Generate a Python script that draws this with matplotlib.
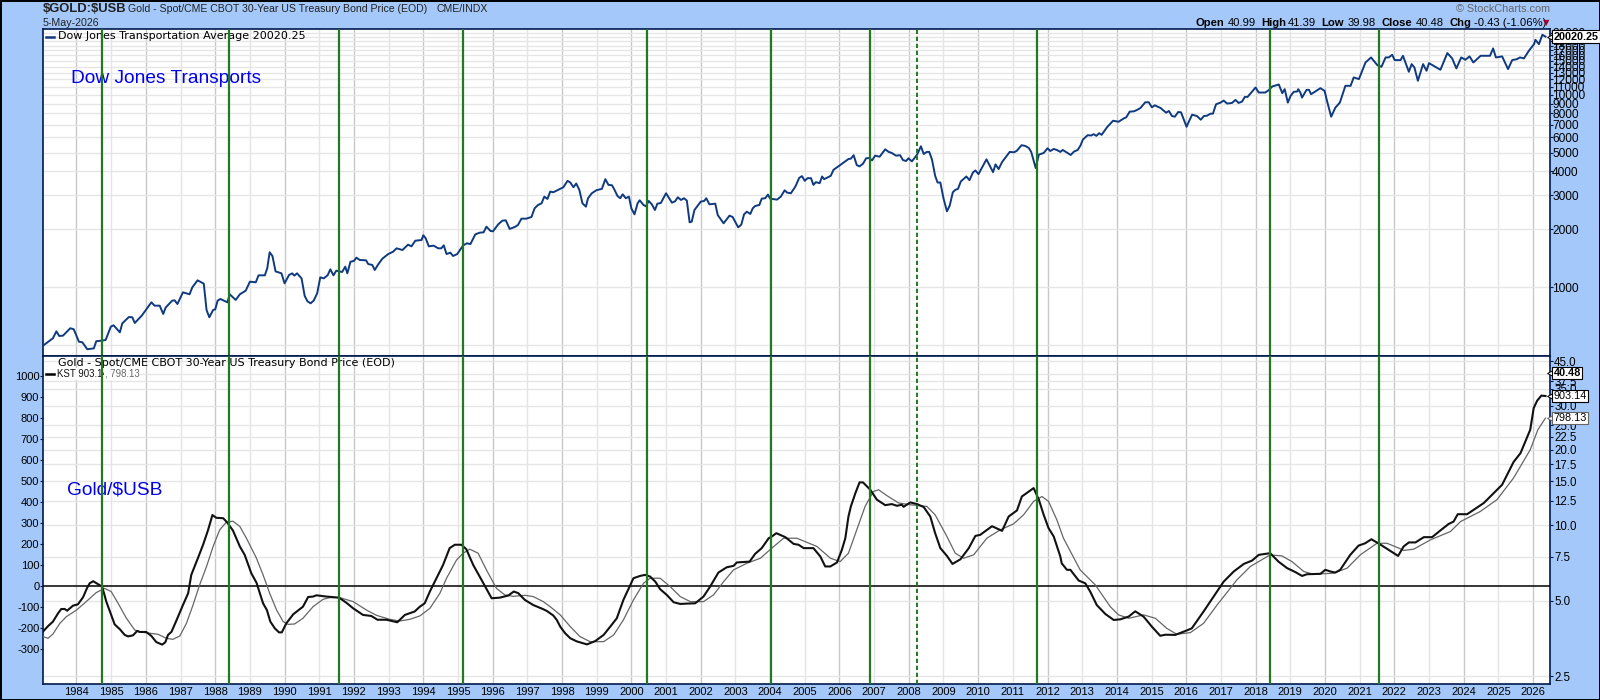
# -*- coding: utf-8 -*-
import matplotlib
matplotlib.use('Agg')
import matplotlib.pyplot as plt

plt.rcParams['font.family'] = ['Liberation Sans', 'DejaVu Sans']

# Dow Jones Transportation Average
dj_years = [
    1983.03, 1983.32, 1983.42, 1983.50, 1983.61, 1983.82, 1983.92, 1984.07, 1984.17, 1984.31,
    1984.50, 1984.57, 1984.74, 1984.84, 1984.99, 1985.07, 1985.25, 1985.32, 1985.51, 1985.61,
    1985.68, 1985.88, 1986.16, 1986.25, 1986.40, 1986.50, 1986.57, 1986.76, 1986.83, 1986.91,
    1987.07, 1987.26, 1987.34, 1987.49, 1987.67, 1987.75, 1987.83, 1987.94, 1988.00, 1988.07,
    1988.15, 1988.35, 1988.42, 1988.59, 1988.71, 1988.88, 1989.00, 1989.17, 1989.25, 1989.43,
    1989.50, 1989.57, 1989.65, 1989.74, 1989.91, 1990.00, 1990.13, 1990.22, 1990.28, 1990.36,
    1990.49, 1990.58, 1990.66, 1990.75, 1990.84, 1990.94, 1991.03, 1991.13, 1991.24, 1991.32,
    1991.41, 1991.49, 1991.66, 1991.75, 1991.81, 1991.90, 1992.00, 1992.07, 1992.17, 1992.35,
    1992.41, 1992.53, 1992.60, 1992.70, 1992.82, 1992.99, 1993.13, 1993.23, 1993.40, 1993.56,
    1993.66, 1993.77, 1993.95, 1994.00, 1994.07, 1994.16, 1994.30, 1994.43, 1994.52, 1994.59,
    1994.67, 1994.78, 1994.86, 1994.98, 1995.15, 1995.26, 1995.36, 1995.50, 1995.63, 1995.74,
    1995.82, 1995.94, 1996.01, 1996.16, 1996.28, 1996.38, 1996.49, 1996.64, 1996.73, 1996.83,
    1996.97, 1997.12, 1997.21, 1997.31, 1997.41,
    1997.49, 1997.58, 1997.66, 1997.75, 1998.04, 1998.16, 1998.24, 1998.33, 1998.41, 1998.50,
    1998.59, 1998.69, 1998.75, 1998.86, 1998.99, 1999.15, 1999.25, 1999.34, 1999.44, 1999.50,
    1999.60, 1999.68, 1999.75, 1999.84, 1999.93, 2000.00, 2000.09, 2000.18, 2000.24, 2000.35,
    2000.42, 2000.50, 2000.59, 2000.68, 2000.75, 2000.85, 2001.00, 2001.17, 2001.26, 2001.34,
    2001.43, 2001.52, 2001.60, 2001.68, 2001.74, 2001.82, 2002.00, 2002.10, 2002.16, 2002.25,
    2002.42, 2002.49, 2002.66, 2002.83, 2002.92, 2003.08, 2003.17, 2003.25, 2003.33, 2003.43,
    2003.50, 2003.57, 2003.69, 2003.76, 2003.86, 2003.94, 2004.00, 2004.20, 2004.31, 2004.42,
    2004.49, 2004.60, 2004.73, 2004.84, 2004.92, 2005.00, 2005.08, 2005.18, 2005.25, 2005.32,
    2005.43, 2005.50, 2005.56, 2005.75, 2005.83, 2006.02, 2006.26, 2006.33, 2006.41, 2006.50,
    2006.58, 2006.68, 2006.77, 2006.86, 2006.94, 2007.03, 2007.16, 2007.32, 2007.42, 2007.51,
    2007.63, 2007.75, 2007.83, 2007.92, 2007.99, 2008.09, 2008.24, 2008.35, 2008.43, 2008.52,
    2008.59, 2008.67, 2008.76, 2008.83, 2008.91, 2009.00, 2009.10, 2009.18, 2009.27, 2009.34,
    2009.42, 2009.50, 2009.66, 2009.75, 2009.85, 2009.92, 2010.01, 2010.24, 2010.43, 2010.50,
    2010.59, 2010.69, 2010.91, 2011.04, 2011.12, 2011.25, 2011.36, 2011.46, 2011.53, 2011.60,
    2011.66, 2011.75, 2011.89, 2012.00, 2012.08, 2012.18, 2012.27, 2012.37,
    2012.44, 2012.67, 2012.76, 2012.87, 2012.95, 2013.02, 2013.16, 2013.26, 2013.33, 2013.41,
    2013.49, 2013.56, 2013.72, 2013.89, 2014.05, 2014.20, 2014.27, 2014.37, 2014.49, 2014.58,
    2014.68, 2014.82, 2014.92, 2015.01, 2015.09, 2015.26, 2015.42, 2015.50, 2015.59, 2015.67,
    2015.77, 2015.85, 2016.01, 2016.07, 2016.17, 2016.31, 2016.42, 2016.51, 2016.60, 2016.70,
    2016.77, 2016.86, 2016.99, 2017.08, 2017.18, 2017.32, 2017.42, 2017.51, 2017.61, 2017.69,
    2017.77, 2018.00, 2018.09, 2018.28, 2018.38, 2018.48, 2018.67, 2018.77, 2018.84, 2018.93,
    2019.01, 2019.10, 2019.20, 2019.23, 2019.29,
    2019.34, 2019.47, 2019.54, 2019.60, 2019.87, 2019.99, 2020.06, 2020.18, 2020.30, 2020.43,
    2020.59, 2020.74, 2020.83, 2020.98, 2021.17, 2021.33, 2021.51, 2021.63, 2021.75, 2021.84,
    2021.94, 2022.01, 2022.18, 2022.25, 2022.42, 2022.50, 2022.58, 2022.68, 2022.83, 2022.93,
    2023.00, 2023.33, 2023.53, 2023.67, 2023.79, 2023.93, 2024.05, 2024.17, 2024.28, 2024.49,
    2024.76, 2024.85, 2024.93, 2025.11, 2025.28, 2025.40, 2025.54, 2025.62, 2025.74, 2025.88,
    2026.03, 2026.07, 2026.17, 2026.27, 2026.36,
]
dj_values = [
    497, 544, 591, 559, 561, 613, 606, 522, 518, 477,
    482, 525, 529, 533, 625, 635, 584, 650, 701, 699,
    653, 712, 836, 803, 803, 727, 785, 853, 856, 819,
    942, 920, 1000, 1087, 1045, 763, 699, 763, 768, 853,
    870, 836, 920, 860, 920, 961, 1070, 1062, 1154, 1154,
    1255, 1520, 1454, 1210, 1182, 1049, 1159, 1182, 1150, 1182,
    1113, 902, 846, 826, 853, 931, 1127, 1113, 1154, 1240,
    1154, 1220, 1201, 1280, 1182, 1358, 1370, 1425, 1386, 1381,
    1321, 1306, 1230, 1316, 1408, 1489, 1531, 1594, 1562, 1665,
    1632, 1746, 1760, 1863, 1796, 1632, 1645, 1594, 1594, 1652,
    1489, 1513, 1454, 1489, 1652, 1692, 1678, 1884, 1922, 1930,
    2065, 1960, 1953, 2123, 2218, 2227, 2010, 2057, 2106, 2272,
    2272, 2318, 2571, 2677, 2729,
    2957, 2875, 3140, 3115, 3308, 3570, 3500, 3308, 3458, 3204,
    2729, 2623, 2900, 3078, 3190, 3245, 3643, 3402, 3388, 3245,
    2980, 2900, 3040, 2900, 2957, 2570, 2393, 2729, 2830, 2676,
    2633, 2808, 2697, 2520, 2718, 2740, 3078, 2751, 2796, 2933,
    2841, 2900, 2819, 2175, 2192, 2520, 2785, 2808, 2900, 2697,
    2718, 2374, 2149, 2355, 2318, 2049, 2115, 2393, 2470, 2403,
    2570, 2644, 2676, 2887, 2900, 3030, 2887, 2853, 2957, 3190,
    3103, 3078, 3335, 3700, 3777, 3570, 3686, 3686, 3402, 3515,
    3472, 3762, 3643, 3792, 4076, 4310, 4635, 4655, 4850, 4310,
    4243, 4382, 4675, 4690, 4560, 4825, 4765, 5205, 5045, 4982,
    4825, 4850, 4580, 4525, 4675, 4507, 4885, 5398, 4920, 5045,
    5045, 4598, 3792, 3500, 3500, 2900, 2480, 2655, 3115, 3204,
    3245, 3545, 3762, 3600, 3946, 4043, 3870, 4617, 3962, 4347,
    4110, 4470, 5045, 5025, 5125, 5465, 5420, 5290, 5045, 4540,
    4160, 4885, 4982, 5270, 5100, 5228, 5165, 5045,
    5165, 4864, 5060, 5165, 5442, 5849, 6163, 6139, 6238, 6114,
    6313, 6188, 6788, 7325, 7237, 7533, 7625, 8165, 8197, 8328,
    8530, 9134, 9134, 8600, 8810, 8530, 8065, 8230, 7747, 7685,
    8130, 8098, 6813, 7208, 7873, 7747, 7413, 7747, 7780, 7968,
    7968, 8917, 9097, 9320, 8990, 9060, 9395, 9060, 9208, 9740,
    9740, 10900, 10262, 10262, 10555, 11030, 11300, 10180, 10683, 9097,
    9858, 10345, 10390, 10683, 10262,
    9660, 10597, 10597, 10060, 10810, 10470, 9280, 7685, 8565, 9097,
    11120, 11120, 12290, 12050, 14700, 15610, 14240, 13960, 15610, 15610,
    16110, 15120, 15120, 15920, 13150, 14410, 13850, 11810, 14410, 13310,
    14580, 13470, 16440, 15420, 13690, 15610, 15180, 15800, 14700, 15920,
    15920, 17380, 15610, 15800, 13580, 15120, 15300, 15610, 15430, 16900,
    18300, 19270, 18300, 20460, 20020.25,
]

# KST line (thick black)
kst_years = [
    1983.03, 1983.18, 1983.32, 1983.47, 1983.56, 1983.66, 1983.73, 1983.90, 1984.04, 1984.19,
    1984.30, 1984.38, 1984.48, 1984.62, 1984.74, 1984.86, 1985.00, 1985.10, 1985.25, 1985.39,
    1985.49, 1985.63, 1985.75, 1985.82, 1986.01, 1986.16, 1986.30, 1986.47, 1986.56, 1986.64,
    1986.74, 1986.88, 1987.07, 1987.22, 1987.31, 1987.50, 1987.65, 1987.79, 1987.92, 1988.03,
    1988.23, 1988.34, 1988.51, 1988.71, 1988.85, 1989.04, 1989.19, 1989.38, 1989.49, 1989.59,
    1989.72, 1989.84, 1989.92, 1990.05, 1990.25, 1990.53, 1990.68, 1990.82, 1990.92, 1991.21,
    1991.57, 1991.78, 1991.98, 1992.26, 1992.50, 1992.68, 1992.94, 1993.25, 1993.47, 1993.75,
    1993.90, 1994.04, 1994.19, 1994.38, 1994.57, 1994.76, 1994.91, 1995.10, 1995.24, 1995.44,
    1995.68, 1995.97, 1996.21, 1996.45, 1996.61, 1996.74, 1996.93, 1997.17, 1997.46,
    1997.56, 1997.75, 1997.85, 1997.95, 1998.09, 1998.24, 1998.43, 1998.72, 1998.96, 1999.20,
    1999.39, 1999.58, 1999.77, 1999.97, 2000.06, 2000.25, 2000.40, 2000.54, 2000.69, 2000.83,
    2001.02, 2001.22, 2001.41, 2001.65, 2001.84, 2002.08, 2002.27, 2002.51, 2002.75, 2002.95,
    2003.04, 2003.41, 2003.57, 2003.76, 2003.96, 2004.05, 2004.18, 2004.44, 2004.68, 2004.82,
    2004.97, 2005.25, 2005.45, 2005.59, 2005.74, 2005.93, 2006.07, 2006.17, 2006.26, 2006.33,
    2006.46, 2006.58, 2006.68, 2006.89, 2007.08, 2007.32, 2007.51, 2007.66, 2007.80, 2007.85,
    2008.04, 2008.24, 2008.43, 2008.62, 2008.76, 2008.91, 2009.10, 2009.26, 2009.49, 2009.73,
    2009.92, 2010.06, 2010.40, 2010.69, 2010.88, 2011.12, 2011.26, 2011.60, 2011.75, 2011.89,
    2012.03, 2012.18, 2012.37,
    2012.41, 2012.56, 2012.66, 2012.90, 2013.09, 2013.23, 2013.42, 2013.67, 2013.91, 2014.10,
    2014.34, 2014.53, 2014.77, 2015.01, 2015.25, 2015.40, 2015.68, 2015.92, 2016.16, 2016.50,
    2016.79, 2017.08, 2017.37, 2017.66, 2017.90, 2018.09, 2018.42, 2018.66, 2018.91, 2019.15,
    2019.34, 2019.48, 2019.87, 2020.01, 2020.16, 2020.30, 2020.44, 2020.73, 2020.97, 2021.16,
    2021.34, 2021.57, 2022.11, 2022.27, 2022.42, 2022.61, 2022.85, 2023.09, 2023.33, 2023.57,
    2023.71, 2023.83, 2024.10, 2024.58, 2025.11, 2025.44, 2025.64, 2025.92, 2026.02, 2026.12,
    2026.24, 2026.36,
]
kst_values = [
    -216, -189, -168, -128, -108, -108, -116, -92, -86, -52,
    -10, 14, 24, 10, -2, -73, -136, -181, -204, -231,
    -238, -233, -212, -217, -217, -236, -265, -277, -266, -231,
    -216, -163, -89, -33, 54, 133, 197, 265, 338, 325,
    323, 304, 265, 189, 149, 62, 17, -81, -113, -168,
    -200, -219, -219, -176, -133, -97, -51, -49, -43, -49,
    -54, -78, -105, -136, -141, -159, -159, -171, -136, -120,
    -97, -81, -25, 38, 101, 181, 197, 197, 176, 101,
    30, -57, -54, -44, -25, -33, -65, -89, -109,
    -117, -139, -160, -192, -223, -247, -262, -276, -260, -231,
    -192, -152, -65, 6, 38, 49, 54, 46, 22, -14,
    -41, -76, -84, -82, -81, -49, -2, 65, 90, 97,
    113, 117, 154, 181, 228, 236, 252, 233, 201, 197,
    181, 181, 141, 94, 94, 113, 173, 228, 331, 379,
    442, 493, 493, 458, 411, 385, 390, 382, 387, 377,
    398, 390, 376, 331, 252, 181, 144, 106, 128, 181,
    239, 244, 285, 263, 331, 360, 426, 466, 411, 339,
    276, 236, 141,
    109, 78, 78, 27, 14, -25, -89, -132, -160, -157,
    -144, -119, -144, -192, -235, -230, -231, -216, -200, -120,
    -49, 22, 70, 106, 122, 149, 157, 117, 86, 67,
    49, 57, 59, 78, 70, 65, 78, 149, 193, 204,
    223, 201, 144, 189, 208, 208, 233, 233, 265, 296,
    307, 342, 342, 395, 482, 590, 632, 743, 846, 881,
    905, 903.14,
]

# KST signal line (thin gray)
sig_years = [
    1983.03, 1983.18, 1983.32, 1983.52, 1983.71, 1984.00, 1984.28, 1984.57, 1984.81, 1985.00,
    1985.20, 1985.44, 1985.68, 1985.92, 1986.35, 1986.59, 1986.78, 1986.98, 1987.17, 1987.36,
    1987.55, 1987.75, 1987.94, 1988.13, 1988.32, 1988.51, 1988.71, 1988.90, 1989.19, 1989.38,
    1989.57, 1989.77, 1989.96, 1990.10, 1990.29, 1990.53, 1990.82, 1991.11, 1991.30, 1991.59,
    1991.98, 1992.36, 1992.65, 1993.03, 1993.32, 1993.61, 1993.90, 1994.19, 1994.48, 1994.67,
    1994.96, 1995.15, 1995.34, 1995.58, 1995.82, 1996.11, 1996.35, 1996.59, 1996.93, 1997.17,
    1997.46, 1997.66, 1997.95, 1998.24, 1998.52, 1998.81, 1999.20, 1999.49, 1999.77, 2000.06,
    2000.35, 2000.54, 2000.83, 2001.12, 2001.41, 2001.70, 2002.08, 2002.37, 2002.66, 2002.95,
    2003.33, 2003.72, 2004.05, 2004.39, 2004.77, 2005.35, 2005.74, 2006.02, 2006.26, 2006.50,
    2006.74, 2006.98, 2007.13, 2007.37, 2007.71, 2008.04, 2008.52, 2008.76, 2009.10, 2009.34,
    2009.58, 2009.87, 2010.25, 2010.64, 2011.02, 2011.31, 2011.60, 2011.84, 2012.03, 2012.27,
    2012.46, 2012.94, 2013.38, 2013.81, 2014.05, 2014.34, 2014.77, 2015.11, 2015.44, 2015.73,
    2016.12, 2016.50, 2016.89, 2017.46, 2017.85, 2018.42, 2018.76, 2019.05, 2019.39, 2019.67,
    2020.25, 2020.64, 2021.02, 2021.50, 2021.79, 2022.13, 2022.27, 2022.56, 2023.04, 2023.62,
    2023.91, 2024.48, 2024.96, 2025.44, 2025.92, 2026.14, 2026.36,
]
sig_values = [
    -239, -247, -227, -176, -144, -113, -73, -30, -10, -25,
    -81, -152, -208, -219, -228, -247, -252, -236, -176, -89,
    6, 94, 189, 268, 304, 309, 284, 228, 133, 54,
    -33, -113, -168, -181, -179, -152, -97, -62, -54, -54,
    -73, -113, -138, -157, -165, -157, -141, -105, -33, 38,
    125, 157, 176, 157, 78, -10, -41, -48, -43, -49,
    -73, -97, -136, -192, -239, -263, -263, -231, -160, -65,
    14, 38, 38, -2, -49, -73, -73, -41, 22, 78,
    109, 133, 181, 228, 228, 189, 133, 117, 157, 268,
    379, 450, 458, 430, 395, 387, 379, 339, 236, 157,
    133, 149, 228, 268, 296, 339, 403, 426, 403, 315,
    228, 78, 6, -97, -136, -152, -136, -152, -200, -228,
    -220, -176, -89, 30, 94, 149, 144, 117, 70, 57,
    62, 86, 149, 204, 204, 181, 170, 176, 220, 260,
    307, 355, 411, 514, 648, 743, 798.13,
]

solid_lines = [1984.73, 1988.40, 1991.57, 1995.14, 2000.45, 2004.04, 2006.89, 2011.70, 2018.41, 2021.56]
dashed_lines = [2008.25]

year_ticks = list(range(1984, 2027))
dj_ticks = [21000, 20000, 19000, 18000, 17000, 16000, 15000, 14000, 13000, 12000, 11000, 10000,
            9000, 8000, 7000, 6000, 5000, 4000, 3000, 2000, 1000]
dj_grid_extra = [500]
kst_ticks = [1000, 900, 800, 700, 600, 500, 400, 300, 200, 100, 0, -100, -200, -300]
ratio_ticks = [45.0, 40.0, 37.5, 35.0, 30.0, 25.0, 22.5, 20.0, 17.5, 15.0, 12.5, 10.0, 7.5, 5.0, 2.5]

W, H = 1600, 700
BG = '#a3c8f9'
NAVY = '#001a4d'
GREEN = '#217a21'
LABEL = 8.0
TAG = 7.8


def panel_rect(top, bottom, left=43, right=1550):
    return [left / W, 1 - bottom / H, (right - left) / W, (bottom - top) / H]


def top_text(x, y, s, **kw):
    kw.setdefault('fontsize', LABEL)
    kw.setdefault('va', 'center')
    return fig.text(x / W, 1 - y / H, s, parse_math=False, **kw)


def draw_grid(ax):
    for yr in year_ticks:
        if yr % 2 == 0:
            ax.axvline(yr, color='#c8c8c8', lw=1.0, zorder=1)
        else:
            ax.axvline(yr, color='#e4e4e4', lw=1.0, zorder=1)


def draw_signals(ax):
    for yr in solid_lines:
        ax.axvline(yr, color=GREEN, lw=1.6, zorder=6)
    for yr in dashed_lines:
        ax.axvline(yr, color=GREEN, lw=1.4, ls=(0, (2.2, 1.4)), zorder=6)


def value_tag(ax, y, s, edge='black', weight='normal'):
    trans = ax.get_yaxis_transform()
    ax.plot([1.0003], [y], marker='<', ms=5, mfc='white', mec=edge, mew=0.7,
            transform=trans, clip_on=False, zorder=7)
    ax.text(1.0023, y, s, transform=trans, va='center', ha='left', fontsize=TAG, fontweight=weight,
            clip_on=False, zorder=8,
            bbox=dict(boxstyle='square,pad=0.12', fc='white', ec=edge, lw=0.8))


fig = plt.figure(figsize=(W / 100, H / 100), dpi=100, facecolor=BG)
fig.patch.set_edgecolor('black')
fig.patch.set_linewidth(2)

# ---- top panel
ax_top = fig.add_axes(panel_rect(28.5, 356))
ax_top.set_yscale('log')
ax_top.set_xlim(1983.034, 2026.49)
ax_top.set_ylim(440, 22060)
draw_grid(ax_top)
for v in dj_ticks + dj_grid_extra:
    ax_top.axhline(v, color='#e6e6e6', lw=1.0, zorder=1)
ax_top.plot(dj_years, dj_values, color='#0f3a80', lw=1.4, zorder=3, solid_joinstyle='round')
draw_signals(ax_top)
ax_top.set_xticks([])
ax_top.minorticks_off()
ax_top.yaxis.tick_right()
ax_top.set_yticks(dj_ticks)
ax_top.set_yticklabels([str(v) for v in dj_ticks])
ax_top.tick_params(axis='y', which='both', length=2, width=0.8, color=NAVY, labelsize=8.6, pad=-0.5)
ax_top.yaxis.set_minor_locator(matplotlib.ticker.NullLocator())
for s in ax_top.spines.values():
    s.set_color(NAVY)
    s.set_linewidth(1.2)

ax_top.plot([0.0022, 0.0075], [0.974, 0.974], color='#0f3a80', lw=1.8, transform=ax_top.transAxes, zorder=4)
ax_top.text(0.0100, 0.9770, 'Dow Jones Transportation Average 20020.25', transform=ax_top.transAxes,
            family='DejaVu Sans', fontsize=8.0, va='center', zorder=4)
ax_top.text(0.0186, 0.847, 'Dow Jones Transports', transform=ax_top.transAxes, color='#0000ee',
            fontsize=13.8, va='center', zorder=4)

# ---- bottom panel, right axis (ratio) carries the grid
ax_ratio = fig.add_axes(panel_rect(356, 684))
ax_ratio.set_yscale('log')
ax_ratio.set_xlim(1983.034, 2026.49)
ax_ratio.set_ylim(2.33, 47.3)
draw_grid(ax_ratio)
for v in ratio_ticks:
    ax_ratio.axhline(v, color='#e6e6e6', lw=1.0, zorder=1)
ax_ratio.yaxis.tick_right()
ax_ratio.set_yticks(ratio_ticks)
ax_ratio.set_yticklabels(['%.1f' % v for v in ratio_ticks])
ax_ratio.yaxis.set_minor_locator(matplotlib.ticker.NullLocator())
ax_ratio.tick_params(axis='y', length=2.5, width=0.8, color=NAVY, labelsize=8.3, pad=0.5)
ax_ratio.set_xticks(year_ticks)
ax_ratio.set_xticklabels([str(y) for y in year_ticks])
ax_ratio.tick_params(axis='x', length=0, labelsize=LABEL, pad=2)
for s in ax_ratio.spines.values():
    s.set_color(NAVY)
    s.set_linewidth(1.2)
value_tag(ax_ratio, 40.48, '40.48', weight='bold')

# ---- bottom panel, KST on left axis
ax_kst = fig.add_axes(panel_rect(356, 684), zorder=2)
ax_kst.patch.set_alpha(0)
ax_kst.set_xlim(1983.034, 2026.49)
ax_kst.set_ylim(-464, 1093)
ax_kst.axhline(0, color='black', lw=1.1, zorder=2)
ax_kst.plot(sig_years, sig_values, color='#666666', lw=0.9, zorder=3)
ax_kst.plot(kst_years, kst_values, color='#111111', lw=1.5, zorder=4)
draw_signals(ax_kst)
ax_kst.set_xticks([])
ax_kst.set_yticks(kst_ticks)
ax_kst.set_yticklabels([str(v) for v in kst_ticks])
ax_kst.tick_params(axis='y', length=2.5, width=0.8, color=NAVY, labelsize=LABEL, pad=0.2)
for s in ax_kst.spines.values():
    s.set_visible(False)

ax_kst.text(0.0100, 0.9777, 'Gold - Spot/CME CBOT 30-Year US Treasury Bond Price (EOD)', transform=ax_kst.transAxes,
            family='DejaVu Sans', fontsize=8.05, va='center', zorder=5)
ax_kst.plot([0.0022, 0.0075], [0.9455, 0.9455], color='black', lw=1.8, transform=ax_kst.transAxes, zorder=5)
ax_kst.text(0.0091, 0.9455, 'KST 903.14', transform=ax_kst.transAxes, fontsize=6.9, va='center',
            zorder=5, color='#111111', bbox=dict(fc='white', ec='none', pad=0.5))
ax_kst.text(0.0411, 0.9455, ', 798.13', transform=ax_kst.transAxes, fontsize=6.9, va='center',
            zorder=5, color='#666666', bbox=dict(fc='white', ec='none', pad=0.5))
ax_kst.text(0.0160, 0.591, 'Gold/$USB', transform=ax_kst.transAxes, color='#0000ee', fontsize=13.8,
            va='center', zorder=5, parse_math=False)
value_tag(ax_kst, kst_values[-1], '903.14')
value_tag(ax_kst, sig_values[-1], '798.13', edge='#666666')
value_tag(ax_top, dj_values[-1], '20020.25', weight='bold')

# ---- header text
top_text(43, 9, '$GOLD:$USB', fontsize=9.4, fontweight='bold', color='#222222')
top_text(128.5, 9.5, 'Gold - Spot/CME CBOT 30-Year US Treasury Bond Price (EOD)', fontsize=7.6, color='#222222')
top_text(436.5, 9.5, 'CME/INDX', fontsize=7.6, color='#222222')
top_text(43, 22.5, '5-May-2026', fontsize=7.7, color='#222222')
top_text(1550, 9, '\u00a9 StockCharts.com', fontsize=7.8, ha='right', color='#666666')

header_y = 22.5
top_text(1224, header_y, 'Open', ha='right', fontweight='bold', fontsize=8.1)
top_text(1228, header_y, '40.99', fontsize=8.1)
top_text(1261, header_y, 'High', fontweight='bold', fontsize=8.1)
top_text(1288, header_y, '41.39', fontsize=8.1)
top_text(1321, header_y, 'Low', fontweight='bold', fontsize=8.1)
top_text(1348, header_y, '39.98', fontsize=8.1)
top_text(1381, header_y, 'Close', fontweight='bold', fontsize=8.1)
top_text(1416, header_y, '40.48', fontsize=8.1)
top_text(1449, header_y, 'Chg', fontweight='bold', fontsize=8.1)
top_text(1474, header_y, '-0.43 (-1.06%)', fontsize=8.1)
top_text(1546, header_y, '\u25bc', fontsize=6, ha='center', color='#a00030', family='DejaVu Sans')

fig.savefig('out.png', dpi=100, facecolor=BG, edgecolor='black')
